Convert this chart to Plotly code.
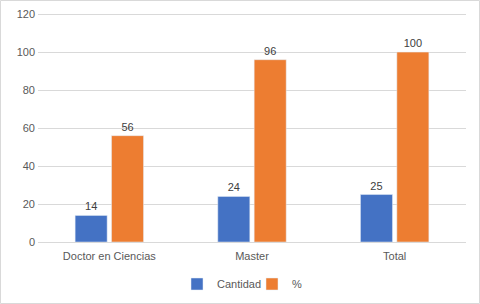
import plotly.graph_objects as go

categories = ["Doctor en Ciencias", "Master", "Total"]
cantidad = [14, 24, 25]
porcentaje = [56, 96, 100]
y_ticks = [0, 20, 40, 60, 80, 100, 120]

font_family = "Liberation Sans, Arial, sans-serif"

fig = go.Figure()
fig.add_trace(go.Bar(name="Cantidad", x=categories, y=cantidad, marker_color="#4472C4",
                     text=cantidad, textposition="outside", cliponaxis=False,
                     textfont=dict(size=11, color="#404040")))
fig.add_trace(go.Bar(name="%", x=categories, y=porcentaje, marker_color="#ED7D31",
                     text=porcentaje, textposition="outside", cliponaxis=False,
                     textfont=dict(size=11, color="#404040")))

fig.update_layout(
    width=480, height=304,
    margin=dict(l=38, r=14, t=13, b=62, autoexpand=False),
    paper_bgcolor="white", plot_bgcolor="white",
    barmode="group", bargap=0.49, bargroupgap=0.12,
    font=dict(family=font_family, size=11, color="#595959"),
    showlegend=True,
    legend=dict(orientation="h", x=0.5, xanchor="center", y=-42/229, yanchor="middle",
                font=dict(size=11, color="#595959"), bgcolor="rgba(0,0,0,0)",
                entrywidth=30, entrywidthmode="pixels", traceorder="normal"),
    xaxis=dict(showgrid=False, showline=True, linecolor="#D9D9D9", linewidth=1,
               ticks="", automargin=False, ticklabelstandoff=4,
               tickfont=dict(size=11, color="#595959")),
    yaxis=dict(range=[0, 120.6], tickvals=y_ticks, showgrid=True, gridcolor="#D9D9D9",
               gridwidth=1, zeroline=False, showline=False, ticks="", automargin=False,
               ticklabelstandoff=2, tickfont=dict(size=11, color="#595959")),
    shapes=[dict(type="rect", xref="paper", yref="paper",
                 x0=-37.5/428, x1=1 + 13.5/428, y0=-61.5/229, y1=1 + 12.5/229,
                 line=dict(color="#D9D9D9", width=1), fillcolor="rgba(0,0,0,0)")],
)

fig.write_html("out.html", config={"displayModeBar": False},
               post_script="document.body.style.margin='0';document.body.style.padding='0';")
